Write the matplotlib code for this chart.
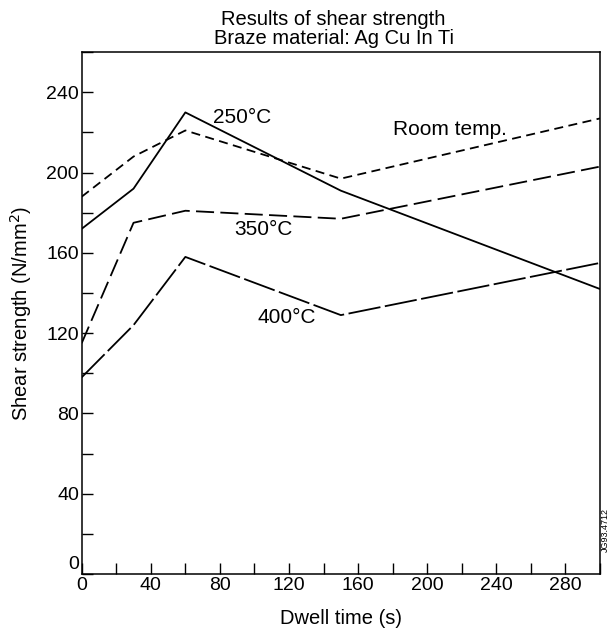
import matplotlib
matplotlib.use("Agg")
import matplotlib.pyplot as plt
from matplotlib.ticker import MultipleLocator, FuncFormatter

plt.rcParams['font.family'] = ['Liberation Sans', 'DejaVu Sans']

# Data
dwell_time = [0, 30, 60, 150, 300]
room_temp = [188, 208, 221, 197, 227]
t250 = [172, 192, 230, 191, 142]
t350 = [115, 175, 181, 177, 203]
t400 = [98, 124, 158, 129, 155]

title_lines = ["Results of shear strength", "Braze material: Ag Cu In Ti"]
x_label = "Dwell time (s)"
y_label = "Shear strength (N/mm$^2$)"
curve_labels = ["Room temp.", "250°C", "350°C", "400°C"]
label_pos = [(180, 221.5), (76, 227.5), (88.5, 171.5), (101.5, 128)]

fig = plt.figure(figsize=(6.11, 6.31), dpi=100)
ax = fig.add_axes([0.1337, 0.0903, 0.8483, 0.827])

lw = 1.3
ax.plot(dwell_time, room_temp, color='black', lw=lw, dashes=(5, 3))
ax.plot(dwell_time, t250, color='black', lw=lw)
ax.plot(dwell_time, t350, color='black', lw=lw, dashes=(10, 3.5))
ax.plot(dwell_time, t400, color='black', lw=lw, dashes=(18, 2.5))

for lab, (x, y) in zip(curve_labels, label_pos):
    ax.text(x, y, lab, fontsize=15, ha='left', va='center')

ax.set_xlim(0, 300)
ax.set_ylim(0, 260)
ax.xaxis.set_major_locator(MultipleLocator(20))
ax.yaxis.set_major_locator(MultipleLocator(20))
xfmt = FuncFormatter(lambda v, p: f"{int(round(v))}" if int(round(v)) % 40 == 0 else "")
yfmt = FuncFormatter(lambda v, p: f"{int(round(v))}" if (int(round(v)) % 40 == 0 and int(round(v)) != 0) else "")
ax.xaxis.set_major_formatter(xfmt)
ax.yaxis.set_major_formatter(yfmt)
ax.tick_params(direction='in', length=8, width=1, labelsize=14, pad=2)
for s in ax.spines.values():
    s.set_linewidth(1.1)

# y-axis zero label, nudged up slightly so it sits above the x-axis "0"
ax.annotate("0", xy=(0, 0), xytext=(-1.5, 1), textcoords='offset points',
            ha='right', va='bottom', fontsize=14)

ax.set_xlabel(x_label, fontsize=14.5, labelpad=11)
ax.set_ylabel(y_label, fontsize=14.5, labelpad=9)
ax.set_title("\n".join(title_lines), fontsize=14.5, linespacing=1.0, pad=6, x=0.486)

fig.text(0.99, 0.125, "JG93.4712", rotation=90, fontsize=6.5, ha='center', va='bottom')

fig.savefig("out.png", dpi=100)
